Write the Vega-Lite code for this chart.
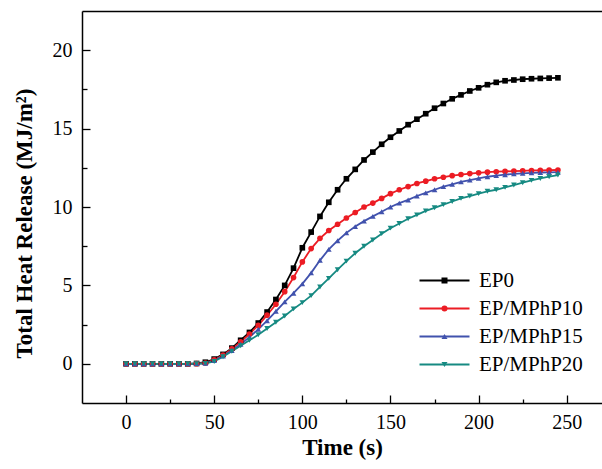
{
"$schema": "https://vega.github.io/schema/vega-lite/v6.json",
"width": 520, "height": 392,
"autosize": {"type": "none"},
"padding": {"left": 82, "top": 11, "right": 0, "bottom": 66},
"background": "white",
"config": {
 "view": {"stroke": null},
 "axis": {"grid": false, "domainColor": "black", "domainWidth": 1.5, "tickColor": "black", "tickWidth": 1.3, "labelFont": "Liberation Serif", "labelFontSize": 20, "labelColor": "black", "titleFont": "Liberation Serif", "titleFontSize": 23, "titleFontWeight": "bold", "titleColor": "black"},
 "legend": {"padding": 0, "rowPadding": 6, "labelFont": "Liberation Serif", "labelFontSize": 21, "labelColor": "black", "labelOffset": 24, "labelLimit": 300, "symbolSize": 36, "symbolStrokeWidth": 1.8}
},
"data": {"values": [
{"s":"EP0","t":0,"v":0},{"s":"EP0","t":5,"v":0},{"s":"EP0","t":10,"v":0},{"s":"EP0","t":15,"v":0},{"s":"EP0","t":20,"v":0},{"s":"EP0","t":25,"v":0},{"s":"EP0","t":30,"v":0},{"s":"EP0","t":35,"v":0},{"s":"EP0","t":40,"v":0.02},{"s":"EP0","t":45,"v":0.1},{"s":"EP0","t":50,"v":0.3},{"s":"EP0","t":55,"v":0.6},{"s":"EP0","t":60,"v":1.0},{"s":"EP0","t":65,"v":1.5},{"s":"EP0","t":70,"v":2.0},{"s":"EP0","t":75,"v":2.6},{"s":"EP0","t":80,"v":3.3},{"s":"EP0","t":85,"v":4.1},{"s":"EP0","t":90,"v":5.0},{"s":"EP0","t":95,"v":6.1},{"s":"EP0","t":100,"v":7.4},{"s":"EP0","t":105,"v":8.4},{"s":"EP0","t":110,"v":9.4},{"s":"EP0","t":115,"v":10.3},{"s":"EP0","t":120,"v":11.1},{"s":"EP0","t":125,"v":11.8},{"s":"EP0","t":130,"v":12.4},{"s":"EP0","t":135,"v":13.0},{"s":"EP0","t":140,"v":13.5},{"s":"EP0","t":145,"v":14.0},{"s":"EP0","t":150,"v":14.45},{"s":"EP0","t":155,"v":14.85},{"s":"EP0","t":160,"v":15.25},{"s":"EP0","t":165,"v":15.6},{"s":"EP0","t":170,"v":15.95},{"s":"EP0","t":175,"v":16.3},{"s":"EP0","t":180,"v":16.6},{"s":"EP0","t":185,"v":16.9},{"s":"EP0","t":190,"v":17.15},{"s":"EP0","t":195,"v":17.4},{"s":"EP0","t":200,"v":17.6},{"s":"EP0","t":205,"v":17.8},{"s":"EP0","t":210,"v":17.95},{"s":"EP0","t":215,"v":18.05},{"s":"EP0","t":220,"v":18.1},{"s":"EP0","t":225,"v":18.15},{"s":"EP0","t":230,"v":18.18},{"s":"EP0","t":235,"v":18.2},{"s":"EP0","t":240,"v":18.22},{"s":"EP0","t":245,"v":18.24},
{"s":"EP/MPhP10","t":0,"v":0},{"s":"EP/MPhP10","t":5,"v":0},{"s":"EP/MPhP10","t":10,"v":0},{"s":"EP/MPhP10","t":15,"v":0},{"s":"EP/MPhP10","t":20,"v":0},{"s":"EP/MPhP10","t":25,"v":0},{"s":"EP/MPhP10","t":30,"v":0},{"s":"EP/MPhP10","t":35,"v":0},{"s":"EP/MPhP10","t":40,"v":0.01},{"s":"EP/MPhP10","t":45,"v":0.05},{"s":"EP/MPhP10","t":50,"v":0.25},{"s":"EP/MPhP10","t":55,"v":0.55},{"s":"EP/MPhP10","t":60,"v":0.95},{"s":"EP/MPhP10","t":65,"v":1.4},{"s":"EP/MPhP10","t":70,"v":1.9},{"s":"EP/MPhP10","t":75,"v":2.45},{"s":"EP/MPhP10","t":80,"v":3.1},{"s":"EP/MPhP10","t":85,"v":3.8},{"s":"EP/MPhP10","t":90,"v":4.6},{"s":"EP/MPhP10","t":95,"v":5.5},{"s":"EP/MPhP10","t":100,"v":6.5},{"s":"EP/MPhP10","t":105,"v":7.35},{"s":"EP/MPhP10","t":110,"v":8.0},{"s":"EP/MPhP10","t":115,"v":8.5},{"s":"EP/MPhP10","t":120,"v":8.9},{"s":"EP/MPhP10","t":125,"v":9.3},{"s":"EP/MPhP10","t":130,"v":9.65},{"s":"EP/MPhP10","t":135,"v":10.0},{"s":"EP/MPhP10","t":140,"v":10.25},{"s":"EP/MPhP10","t":145,"v":10.55},{"s":"EP/MPhP10","t":150,"v":10.85},{"s":"EP/MPhP10","t":155,"v":11.1},{"s":"EP/MPhP10","t":160,"v":11.3},{"s":"EP/MPhP10","t":165,"v":11.5},{"s":"EP/MPhP10","t":170,"v":11.65},{"s":"EP/MPhP10","t":175,"v":11.8},{"s":"EP/MPhP10","t":180,"v":11.9},{"s":"EP/MPhP10","t":185,"v":12.0},{"s":"EP/MPhP10","t":190,"v":12.07},{"s":"EP/MPhP10","t":195,"v":12.13},{"s":"EP/MPhP10","t":200,"v":12.18},{"s":"EP/MPhP10","t":205,"v":12.22},{"s":"EP/MPhP10","t":210,"v":12.25},{"s":"EP/MPhP10","t":215,"v":12.27},{"s":"EP/MPhP10","t":220,"v":12.29},{"s":"EP/MPhP10","t":225,"v":12.31},{"s":"EP/MPhP10","t":230,"v":12.33},{"s":"EP/MPhP10","t":235,"v":12.34},{"s":"EP/MPhP10","t":240,"v":12.35},{"s":"EP/MPhP10","t":245,"v":12.36},
{"s":"EP/MPhP15","t":0,"v":0},{"s":"EP/MPhP15","t":5,"v":0},{"s":"EP/MPhP15","t":10,"v":0},{"s":"EP/MPhP15","t":15,"v":0},{"s":"EP/MPhP15","t":20,"v":0},{"s":"EP/MPhP15","t":25,"v":0},{"s":"EP/MPhP15","t":30,"v":0},{"s":"EP/MPhP15","t":35,"v":0},{"s":"EP/MPhP15","t":40,"v":0.01},{"s":"EP/MPhP15","t":45,"v":0.03},{"s":"EP/MPhP15","t":50,"v":0.2},{"s":"EP/MPhP15","t":55,"v":0.5},{"s":"EP/MPhP15","t":60,"v":0.85},{"s":"EP/MPhP15","t":65,"v":1.25},{"s":"EP/MPhP15","t":70,"v":1.7},{"s":"EP/MPhP15","t":75,"v":2.2},{"s":"EP/MPhP15","t":80,"v":2.75},{"s":"EP/MPhP15","t":85,"v":3.35},{"s":"EP/MPhP15","t":90,"v":3.95},{"s":"EP/MPhP15","t":95,"v":4.5},{"s":"EP/MPhP15","t":100,"v":5.1},{"s":"EP/MPhP15","t":105,"v":5.8},{"s":"EP/MPhP15","t":110,"v":6.6},{"s":"EP/MPhP15","t":115,"v":7.3},{"s":"EP/MPhP15","t":120,"v":7.85},{"s":"EP/MPhP15","t":125,"v":8.35},{"s":"EP/MPhP15","t":130,"v":8.75},{"s":"EP/MPhP15","t":135,"v":9.1},{"s":"EP/MPhP15","t":140,"v":9.4},{"s":"EP/MPhP15","t":145,"v":9.7},{"s":"EP/MPhP15","t":150,"v":10.0},{"s":"EP/MPhP15","t":155,"v":10.25},{"s":"EP/MPhP15","t":160,"v":10.45},{"s":"EP/MPhP15","t":165,"v":10.7},{"s":"EP/MPhP15","t":170,"v":10.9},{"s":"EP/MPhP15","t":175,"v":11.1},{"s":"EP/MPhP15","t":180,"v":11.3},{"s":"EP/MPhP15","t":185,"v":11.45},{"s":"EP/MPhP15","t":190,"v":11.6},{"s":"EP/MPhP15","t":195,"v":11.72},{"s":"EP/MPhP15","t":200,"v":11.83},{"s":"EP/MPhP15","t":205,"v":11.93},{"s":"EP/MPhP15","t":210,"v":12.0},{"s":"EP/MPhP15","t":215,"v":12.06},{"s":"EP/MPhP15","t":220,"v":12.11},{"s":"EP/MPhP15","t":225,"v":12.15},{"s":"EP/MPhP15","t":230,"v":12.18},{"s":"EP/MPhP15","t":235,"v":12.2},{"s":"EP/MPhP15","t":240,"v":12.21},{"s":"EP/MPhP15","t":245,"v":12.22},
{"s":"EP/MPhP20","t":0,"v":0},{"s":"EP/MPhP20","t":5,"v":0},{"s":"EP/MPhP20","t":10,"v":0},{"s":"EP/MPhP20","t":15,"v":0},{"s":"EP/MPhP20","t":20,"v":0},{"s":"EP/MPhP20","t":25,"v":0},{"s":"EP/MPhP20","t":30,"v":0},{"s":"EP/MPhP20","t":35,"v":0},{"s":"EP/MPhP20","t":40,"v":0.01},{"s":"EP/MPhP20","t":45,"v":0.03},{"s":"EP/MPhP20","t":50,"v":0.15},{"s":"EP/MPhP20","t":55,"v":0.45},{"s":"EP/MPhP20","t":60,"v":0.8},{"s":"EP/MPhP20","t":65,"v":1.15},{"s":"EP/MPhP20","t":70,"v":1.5},{"s":"EP/MPhP20","t":75,"v":1.85},{"s":"EP/MPhP20","t":80,"v":2.25},{"s":"EP/MPhP20","t":85,"v":2.65},{"s":"EP/MPhP20","t":90,"v":3.05},{"s":"EP/MPhP20","t":95,"v":3.5},{"s":"EP/MPhP20","t":100,"v":3.9},{"s":"EP/MPhP20","t":105,"v":4.35},{"s":"EP/MPhP20","t":110,"v":4.9},{"s":"EP/MPhP20","t":115,"v":5.45},{"s":"EP/MPhP20","t":120,"v":6.0},{"s":"EP/MPhP20","t":125,"v":6.55},{"s":"EP/MPhP20","t":130,"v":7.05},{"s":"EP/MPhP20","t":135,"v":7.5},{"s":"EP/MPhP20","t":140,"v":7.9},{"s":"EP/MPhP20","t":145,"v":8.3},{"s":"EP/MPhP20","t":150,"v":8.65},{"s":"EP/MPhP20","t":155,"v":8.95},{"s":"EP/MPhP20","t":160,"v":9.25},{"s":"EP/MPhP20","t":165,"v":9.5},{"s":"EP/MPhP20","t":170,"v":9.75},{"s":"EP/MPhP20","t":175,"v":9.95},{"s":"EP/MPhP20","t":180,"v":10.15},{"s":"EP/MPhP20","t":185,"v":10.35},{"s":"EP/MPhP20","t":190,"v":10.55},{"s":"EP/MPhP20","t":195,"v":10.7},{"s":"EP/MPhP20","t":200,"v":10.85},{"s":"EP/MPhP20","t":205,"v":11.0},{"s":"EP/MPhP20","t":210,"v":11.1},{"s":"EP/MPhP20","t":215,"v":11.25},{"s":"EP/MPhP20","t":220,"v":11.4},{"s":"EP/MPhP20","t":225,"v":11.55},{"s":"EP/MPhP20","t":230,"v":11.7},{"s":"EP/MPhP20","t":235,"v":11.82},{"s":"EP/MPhP20","t":240,"v":11.93},{"s":"EP/MPhP20","t":245,"v":12.04}
]},
"layer": [
 {"mark": {"type": "line", "strokeWidth": 1.8},
  "encoding": {
   "x": {"field": "t", "type": "quantitative", "scale": {"domain": [-25, 270], "nice": false, "zero": false},
         "axis": {"orient": "bottom", "values": [0,50,100,150,200,250], "tickSize": -8, "labelPadding": 17, "title": "Time (s)", "titlePadding": 4}},
   "y": {"field": "v", "type": "quantitative", "scale": {"domain": [-2.5, 22.5], "nice": false, "zero": false},
         "axis": {"orient": "left", "values": [0,5,10,15,20], "tickSize": -8, "labelPadding": 18, "title": "Total Heat Release (MJ/m²)", "titlePadding": 16, "titleY": 212}},
   "stroke": {"field": "s", "type": "nominal",
      "scale": {"domain": ["EP0","EP/MPhP10","EP/MPhP15","EP/MPhP20"], "range": ["#000000","#ec1c24","#4152ad","#168a82"]},
      "legend": {"title": null, "orient": "none", "legendX": 352, "legendY": 259, "symbolType": "M-8.333,0L8.333,0"}}
  }},
 {"mark": {"type": "point", "filled": true, "size": 32, "opacity": 1},
  "encoding": {
   "x": {"field": "t", "type": "quantitative", "scale": {"domain": [-25, 270], "nice": false, "zero": false},
         "axis": {"orient": "bottom", "values": [25,75,125,175,225], "tickSize": -4, "labels": false, "domain": false, "title": null}},
   "y": {"field": "v", "type": "quantitative", "scale": {"domain": [-2.5, 22.5], "nice": false, "zero": false},
         "axis": {"orient": "left", "values": [2.5,7.5,12.5,17.5], "tickSize": -5, "labels": false, "domain": false, "title": null}},
   "fill": {"field": "s", "type": "nominal",
      "scale": {"domain": ["EP/MPhP20","EP/MPhP15","EP/MPhP10","EP0"], "range": ["#168a82","#4152ad","#ec1c24","#000000"]},
      "legend": {"title": null, "orient": "none", "legendX": 352, "legendY": 259, "labelOpacity": 0, "values": ["EP0","EP/MPhP10","EP/MPhP15","EP/MPhP20"]}},
   "shape": {"field": "s", "type": "nominal",
      "scale": {"domain": ["EP/MPhP20","EP/MPhP15","EP/MPhP10","EP0"], "range": ["triangle-down","triangle-up","circle","square"]},
      "legend": {"title": null, "orient": "none", "legendX": 352, "legendY": 259, "labelOpacity": 0, "values": ["EP0","EP/MPhP10","EP/MPhP15","EP/MPhP20"]}}
  }},
 {"mark": {"type": "point", "opacity": 0},
  "encoding": {
   "x": {"field": "t", "type": "quantitative", "scale": {"domain": [-25, 270], "nice": false, "zero": false},
         "axis": {"orient": "top", "ticks": false, "labels": false, "domain": true, "title": null}},
   "y": {"field": "v", "type": "quantitative", "axis": null}
  }}
],
"resolve": {"axis": {"x": "independent", "y": "independent"}}
}
